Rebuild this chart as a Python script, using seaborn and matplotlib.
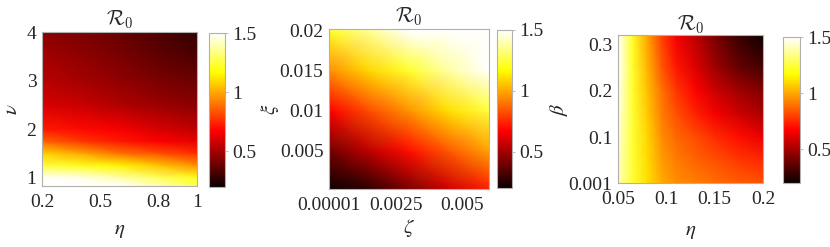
import numpy as np
import matplotlib
matplotlib.use("Agg")
import matplotlib.pyplot as plt
import seaborn as sns

# panel 1: R0 over eta (x) and nu (y)
eta1 = [0.2, 0.4, 0.6, 0.8, 1.0]
nu1 = [0.83, 1.0, 1.25, 1.5, 1.75, 2.0, 2.5, 3.0, 3.5, 4.0]
r0_1 = [
    [1.85, 1.70, 1.55, 1.40, 1.28],
    [1.57, 1.47, 1.39, 1.29, 1.21],
    [1.25, 1.21, 1.15, 1.06, 0.96],
    [1.08, 1.00, 0.90, 0.83, 0.76],
    [0.87, 0.78, 0.72, 0.67, 0.63],
    [0.72, 0.69, 0.66, 0.60, 0.55],
    [0.60, 0.57, 0.52, 0.48, 0.45],
    [0.54, 0.50, 0.46, 0.42, 0.39],
    [0.50, 0.46, 0.42, 0.37, 0.33],
    [0.45, 0.42, 0.38, 0.33, 0.28],
]

# panel 2: R0 over zeta (x) and xi (y)
zeta2 = [0.00001, 0.0015, 0.003, 0.0045, 0.006]
xi2 = [0.0002, 0.005, 0.01, 0.015, 0.02]
r0_2 = [
    [0.12, 0.27, 0.42, 0.58, 0.73],
    [0.40, 0.55, 0.70, 0.85, 0.99],
    [0.67, 0.82, 0.96, 1.11, 1.25],
    [0.95, 1.09, 1.23, 1.38, 1.52],
    [1.22, 1.36, 1.50, 1.65, 1.79],
]

# panel 3: R0 over eta (x) and beta (y)
eta3 = [0.05, 0.065, 0.08, 0.095, 0.11, 0.13, 0.15, 0.175, 0.2]
beta3 = [0.001, 0.05, 0.1, 0.15, 0.2, 0.25, 0.32]
r0_3 = [
    [1.40, 1.24, 1.11, 1.01, 0.95, 0.92, 0.89, 0.86, 0.83],
    [1.42, 1.24, 1.10, 0.98, 0.92, 0.87, 0.83, 0.78, 0.75],
    [1.44, 1.24, 1.09, 0.95, 0.88, 0.82, 0.76, 0.70, 0.64],
    [1.46, 1.24, 1.07, 0.92, 0.83, 0.74, 0.66, 0.58, 0.51],
    [1.48, 1.23, 1.05, 0.90, 0.78, 0.68, 0.58, 0.49, 0.43],
    [1.50, 1.23, 1.03, 0.85, 0.72, 0.61, 0.49, 0.38, 0.32],
    [1.52, 1.22, 1.00, 0.80, 0.66, 0.55, 0.42, 0.29, 0.21],
]

xticks1, xlabels1 = [0.2, 0.5, 0.8, 1.0], ["0.2", "0.5", "0.8", "1"]
yticks1, ylabels1 = [1, 2, 3, 4], ["1", "2", "3", "4"]
xticks2, xlabels2 = [0.00001, 0.0025, 0.005], ["0.00001", "0.0025", "0.005"]
yticks2, ylabels2 = [0.005, 0.01, 0.015, 0.02], ["0.005", "0.01", "0.015", "0.02"]
xticks3, xlabels3 = [0.05, 0.1, 0.15, 0.2], ["0.05", "0.1", "0.15", "0.2"]
yticks3, ylabels3 = [0.001, 0.1, 0.2, 0.3], ["0.001", "0.1", "0.2", "0.3"]
cbar_ticks, cbar_labels = [0.5, 1.0, 1.5], ["0.5", "1", "1.5"]

sns.set_theme(style="white")
plt.rcParams["font.family"] = ["Liberation Serif", "DejaVu Serif"]
plt.rcParams["mathtext.fontset"] = "stix"

cmap = sns.color_palette("hot", as_cmap=True)
fig = plt.figure(figsize=(8.3, 2.47), dpi=100)

W, H = 830, 247
def box(x0, x1, y0, y1):
    return [x0 / W, 1 - y1 / H, (x1 - x0) / W, (y1 - y0) / H]

panels = [
    (eta1, nu1, r0_1, box(42, 197, 32, 186), box(209, 225, 33, 187),
     xticks1, xlabels1, yticks1, ylabels1, r"$\eta$", r"$\nu$",
     (0.2, 1.0), (0.83, 4.0), (-0.128, 0.5), (0.5, -0.227), 5),
    (zeta2, xi2, r0_2, box(329, 489, 29, 189), box(497, 512, 30, 188),
     xticks2, xlabels2, yticks2, ylabels2, r"$\zeta$", r"$\xi$",
     (0.00001, 0.006), (0.0002, 0.0202), (-0.30, 0.5), (0.5, -0.175), 5),
    (eta3, beta3, r0_3, box(618, 763, 35, 183), box(783, 800, 37, 183),
     xticks3, xlabels3, yticks3, ylabels3, r"$\eta$", r"$\beta$",
     (0.05, 0.2), (0.001, 0.32), (-0.33, 0.5), (0.5, -0.264), 3),
]

edge = "#b0b0b0"
for (xv, yv, zv, apos, cpos, xt, xl, yt, yl, xlab, ylab,
     xlim, ylim, ycoord, xcoord, tpad) in panels:
    ax = fig.add_axes(apos)
    mesh = ax.pcolormesh(xv, yv, np.array(zv), cmap=cmap, vmin=0.2, vmax=1.5,
                         shading="gouraud", rasterized=True)
    ax.set_xlim(*xlim)
    ax.set_ylim(*ylim)
    ax.set_xticks(xt, xl)
    ax.set_yticks(yt, yl)
    ax.tick_params(length=0, labelsize=14)
    ax.tick_params(axis="x", pad=6)
    ax.tick_params(axis="y", pad=4)
    for s in ax.spines.values():
        s.set_color(edge)
        s.set_linewidth(0.8)
    ax.set_xlabel(xlab, fontsize=15)
    ax.set_ylabel(ylab, fontsize=15)
    ax.yaxis.set_label_coords(*ycoord)
    ax.xaxis.set_label_coords(*xcoord)
    ax.set_title(r"$\mathcal{R}_0$", fontsize=15, math_fontfamily="cm", pad=tpad)

    cax = fig.add_axes(cpos)
    cb = fig.colorbar(mesh, cax=cax, ticks=cbar_ticks)
    cb.ax.set_yticklabels(cbar_labels)
    cb.ax.tick_params(length=2, width=0.6, color=edge, pad=3, labelsize=14)
    cb.outline.set_edgecolor(edge)
    cb.outline.set_linewidth(0.8)

fig.savefig("out.png", dpi=100)
